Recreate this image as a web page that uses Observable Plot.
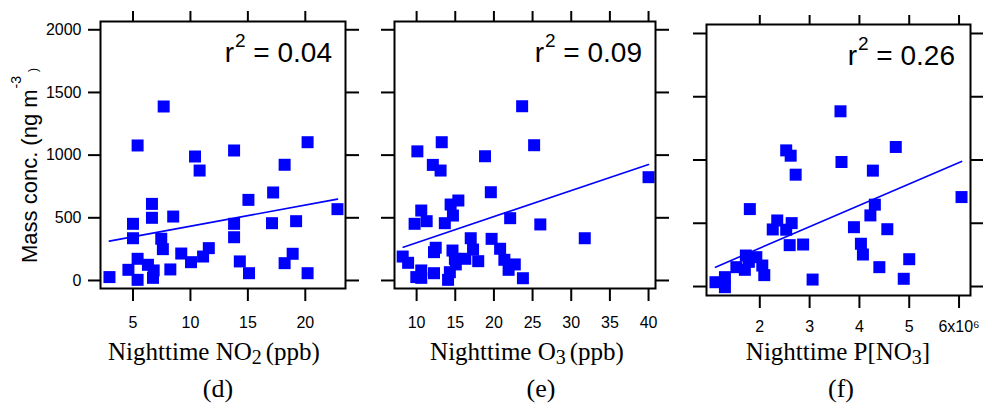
<!DOCTYPE html>
<html>
<head>
<meta charset="utf-8">
<script src="https://cdn.jsdelivr.net/npm/d3@7"></script>
<script src="https://cdn.jsdelivr.net/npm/@observablehq/plot@0.6"></script>
<style>
  body { margin: 0; background: #fff; }
  #wrap { position: relative; width: 983px; height: 414px; overflow: hidden; background: #fff; }
  #wrap svg { position: absolute; top: 0; overflow: visible; }
</style>
</head>
<body>
<div id="wrap"></div>
<script>
// ---------- Data ----------
// Panel (d): nighttime NO2 (ppb) vs mass conc. (ng m^-3)
const no2   = [2.95,4.6,5.0,5.0,5.4,5.4,5.4,6.3,6.65,6.65,6.8,6.74,7.67,7.46,7.6,8.5,8.25,9.2,10.05,10.4,10.8,11.1,11.6,13.8,13.8,13.8,14.3,15.05,15.1,17.2,17.1,18.2,18.2,18.9,19.2,20.2,20.2,22.8];
const massD = [27,85,452,337,1077,173,5,125,611,500,80,21,1388,333,250,510,88,215,146,989,877,191,258,1037,452,345,152,643,58,702,457,923,138,213,473,1103,58,569];
const fitDx = [2.94, 22.8];
const fitDy = [314, 649];

// Panel (e): nighttime O3 (ppb)
const o3    = [8.2,8.9,9.96,10.6,10.6,12.25,12.25,12.47,14.07,14.3,14.64,14.95,15.07,16.3,17.0,17.3,17.97,19.7,20.8,21.35,21.9,22.7,23.75,22.1,19.6,15.4,14.4,14.7,13.65,10.6,11.3,9.74,10.1,13.25,12.1,13.1,23.65,25.2,18.85,40.0,31.75,26.0];
const massE = [191,141,27,21,80,58,226,261,5,66,239,173,128,173,337,247,154,332,253,165,85,128,18,497,704,638,606,518,457,558,473,452,1030,1103,922,877,1390,1079,991,824,337,447];
const fitEx = [8.27, 40.0];
const fitEy = [266, 925];

// Panel (f): nighttime P[NO3] (x 10^6)
const pno3  = [3.62,4.73,2.53,2.62,3.64,2.72,4.27,6.05,1.8,4.31,4.22,2.35,2.64,2.26,2.53,3.89,4.56,2.6,2.87,4.03,4.07,5.0,4.89,4.4,3.06,1.11,1.3,1.3,1.53,1.7,1.72,1.93,2.05,2.09,1.78];
const massF = [1385,1103,1076,1034,984,884,916,707,612,647,562,522,501,451,449,469,453,327,332,338,253,216,61,153,55,34,-5,74,153,132,245,232,166,90,195];
const fitFx = [1.11, 6.05];
const fitFy = [153, 989];

const yTicks  = [0, 500, 1000, 1500, 2000];
const xTicksD = [5, 10, 15, 20];
const xTicksE = [10, 15, 20, 25, 30, 35, 40];
const xTicksF = [2, 3, 4, 5, 6];

const r2Labels = ["0.04", "0.09", "0.26"];
const panelLetters = ["(d)", "(e)", "(f)"];

// ---------- Drawing ----------
const SANS = "'Liberation Sans', Arial, sans-serif";
const SERIF = "'Liberation Serif', 'Times New Roman', serif";
const BLUE = "#0000ff";
const wrap = document.getElementById("wrap");

const zip = (xs, ys) => xs.map((x, i) => ({x, y: ys[i]}));

function panel(cfg) {
  const svg = Plot.plot({
    width: cfg.width, height: 414,
    marginLeft: cfg.ml, marginRight: cfg.mr, marginTop: cfg.mt, marginBottom: 414 - cfg.bottom,
    x: {domain: cfg.xDomain},
    y: {domain: cfg.yDomain},
    style: {fontFamily: SANS, fontSize: "16px", color: "black", background: "transparent", overflow: "visible"},
    marks: [
      Plot.axisY({anchor: "left", ticks: yTicks, tickSize: cfg.tsl, tickPadding: 7, strokeWidth: 2, label: null,
        tickFormat: cfg.yLabels ? d3.format("d") : () => ""}),
      Plot.axisY({anchor: "right", ticks: yTicks, tickSize: 13, strokeWidth: 2, label: null, tickFormat: () => ""}),
      Plot.axisX({anchor: "bottom", ticks: cfg.xTicks, tickSize: 13, tickPadding: cfg.bpad, strokeWidth: 2, label: null,
        tickFormat: cfg.xFormat}),
      Plot.axisX({anchor: "top", ticks: cfg.xTicks, tickSize: cfg.tst, strokeWidth: 2, label: null, tickFormat: () => ""}),
      Plot.line(zip(cfg.fitX, cfg.fitY), {x: "x", y: "y", stroke: BLUE, strokeWidth: 1.6}),
      Plot.dot(zip(cfg.xs, cfg.ys), {x: "x", y: "y", symbol: "square", r: 6.77, fill: BLUE, stroke: "none"}),
      Plot.frame({stroke: "black", strokeWidth: 2})
    ]
  });
  svg.style.left = cfg.left + "px";
  wrap.appendChild(svg);
  const s = d3.select(svg);
  const off = cfg.left;

  // r^2 label
  const t = s.append("text").attr("x", cfg.r2x - off).attr("y", cfg.r2y)
    .attr("text-anchor", "end").attr("fill", "black")
    .style("font-family", SANS).style("font-size", "28px");
  t.append("tspan").text("r");
  t.append("tspan").attr("dx", 1).attr("dy", -15).style("font-size", "19px").text("2");
  t.append("tspan").attr("dy", 15).text("\u00a0= " + cfg.r2);

  // x-axis title
  const xt = s.append("text").attr("x", cfg.titleX - off).attr("y", 360)
    .attr("text-anchor", "middle").attr("fill", "black")
    .style("font-family", SERIF).style("font-size", "25px");
  xt.append("tspan").text(cfg.titleA);
  xt.append("tspan").attr("dy", 4).style("font-size", "20px").text(cfg.titleSub);
  xt.append("tspan").attr("dy", -4).attr("dx", cfg.titleDx).text(cfg.titleB);

  // panel letter
  s.append("text").attr("x", cfg.letterX - off).attr("y", 397)
    .attr("text-anchor", "middle").attr("fill", "black")
    .style("font-family", SERIF).style("font-size", "26px").text(cfg.letter);
  return s;
}

const s1 = panel({
  left: 0, width: 365, ml: 100, mr: 20, mt: 21, bottom: 288,
  xDomain: [2.17, 23.5], yDomain: [-64, 2066],
  xs: no2, ys: massD, fitX: fitDx, fitY: fitDy,
  xTicks: xTicksD, xFormat: d3.format("d"), yLabels: true,
  tsl: 12, tst: 11, bpad: 15,
  r2: r2Labels[0], r2x: 332, r2y: 62,
  titleX: 214, titleA: "Nighttime NO", titleSub: "2", titleB: "(ppb)", titleDx: 4,
  letter: panelLetters[0], letterX: 218
});

// y-axis title (panel d)
const yt = s1.append("text").attr("transform", "translate(37,263) rotate(-90)")
  .attr("text-anchor", "start").attr("fill", "black")
  .style("font-family", SANS).style("font-size", "22px");
yt.append("tspan").text("Mass conc. (ng m");
yt.append("tspan").attr("dx", 1).attr("dy", -16).style("font-size", "14px").text("-3");
yt.append("tspan").attr("dx", 4).attr("dy", 16).style("font-size", "12px").text(")");

panel({
  left: 365, width: 310, ml: 29, mr: 20, mt: 21, bottom: 288,
  xDomain: [7.14, 40.9], yDomain: [-64, 2066],
  xs: o3, ys: massE, fitX: fitEx, fitY: fitEy,
  xTicks: xTicksE, xFormat: d3.format("d"), yLabels: false,
  tsl: 13, tst: 11, bpad: 15,
  r2: r2Labels[1], r2x: 642, r2y: 62,
  titleX: 527, titleA: "Nighttime O", titleSub: "3", titleB: "(ppb)", titleDx: 4,
  letter: panelLetters[1], letterX: 541
});

panel({
  left: 675, width: 308, ml: 31, mr: 13, mt: 24, bottom: 295,
  xDomain: [0.93, 6.23], yDomain: [-71, 2071],
  xs: pno3, ys: massF, fitX: fitFx, fitY: fitFy,
  xTicks: xTicksF, xFormat: d => d === 6 ? "6x10\u2076" : String(d), yLabels: false,
  tsl: 13, tst: 10, bpad: 12,
  r2: r2Labels[2], r2x: 955, r2y: 65,
  titleX: 838, titleA: "Nighttime P[NO", titleSub: "3", titleB: "]", titleDx: 0,
  letter: panelLetters[2], letterX: 841
});
</script>
</body>
</html>
